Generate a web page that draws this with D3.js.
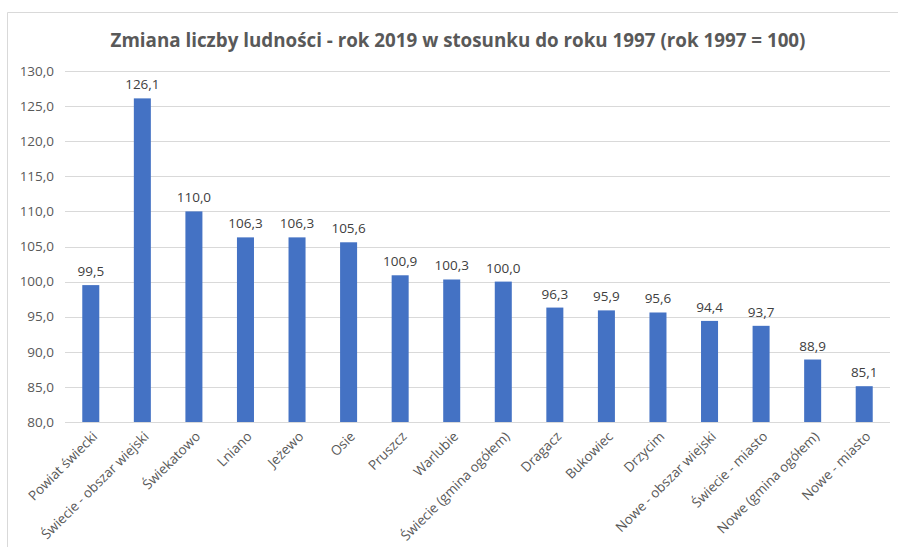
<!DOCTYPE html>
<html>
<head>
<meta charset="utf-8">
<script src="https://cdn.jsdelivr.net/npm/d3@7"></script>
<style>
  body { margin: 0; background: #fff; }
  svg text { font-family: "Open Sans", "Noto Sans", sans-serif; }
</style>
</head>
<body>
<div id="chart"></div>
<script>
const categories = [
    "Powiat świecki", "Świecie - obszar wiejski", "Świekatowo", "Lniano", "Jeżewo",
    "Osie", "Pruszcz", "Warlubie", "Świecie (gmina ogółem)", "Dragacz", "Bukowiec",
    "Drzycim", "Nowe - obszar wiejski", "Świecie - miasto", "Nowe (gmina ogółem)", "Nowe - miasto"
];
const values = [99.5, 126.1, 110.0, 106.3, 106.3, 105.6, 100.9, 100.3, 100.0, 96.3, 95.9, 95.6, 94.4, 93.7, 88.9, 85.1];
const yTicks = [80, 85, 90, 95, 100, 105, 110, 115, 120, 125, 130];

const W = 898, H = 547;
const margin = { top: 71, right: 8, bottom: 125, left: 65 };
const fmt = v => v.toFixed(1).replace(".", ",");

const svg = d3.select("#chart")
    .append("svg")
    .attr("width", W)
    .attr("height", H);

// chart frame (only left and top edges are in view)
svg.append("path")
    .attr("d", `M7.5,${H}V12.5H${W}`)
    .attr("fill", "none")
    .attr("stroke", "#d9d9d9");

const x = d3.scaleBand()
    .domain(categories)
    .range([margin.left, W - margin.right])
    .paddingInner(0.67)
    .paddingOuter(0.335);

const y = d3.scaleLinear()
    .domain([80, 130])
    .range([H - margin.bottom, margin.top]);

// gridlines
svg.append("g")
    .selectAll("line")
    .data(yTicks)
    .join("line")
    .attr("x1", margin.left).attr("x2", W - margin.right)
    .attr("y1", d => Math.round(y(d)) + 0.5).attr("y2", d => Math.round(y(d)) + 0.5)
    .attr("stroke", "#d9d9d9");

// y tick labels
svg.append("g")
    .selectAll("text")
    .data(yTicks)
    .join("text")
    .attr("x", 54)
    .attr("y", d => y(d))
    .attr("dy", "0.35em")
    .attr("text-anchor", "end")
    .attr("font-size", 13.5)
    .attr("fill", "#595959")
    .text(fmt);

// bars
svg.append("g")
    .selectAll("rect")
    .data(values)
    .join("rect")
    .attr("x", (d, i) => x(categories[i]))
    .attr("y", d => y(d))
    .attr("width", x.bandwidth())
    .attr("height", d => y(80) - y(d))
    .attr("fill", "#4472c4");

// data labels
svg.append("g")
    .selectAll("text")
    .data(values)
    .join("text")
    .attr("x", (d, i) => x(categories[i]) + x.bandwidth() / 2)
    .attr("y", d => y(d) - 9)
    .attr("text-anchor", "middle")
    .attr("font-size", 13.5)
    .attr("fill", "#404040")
    .text(fmt);

// x labels
svg.append("g")
    .selectAll("text")
    .data(categories)
    .join("text")
    .attr("transform", d => `translate(${x(d) + x.bandwidth() / 2 + 4},${H - margin.bottom + 12}) rotate(-45)`)
    .attr("text-anchor", "end")
    .attr("dy", "0.35em")
    .attr("font-size", 13.5)
    .attr("fill", "#595959")
    .text(d => d);

// title
svg.append("text")
    .attr("x", 458)
    .attr("y", 47)
    .attr("text-anchor", "middle")
    .attr("font-size", 18.8)
    .attr("font-weight", 700)
    .attr("fill", "#595959")
    .text("Zmiana liczby ludności - rok 2019 w stosunku do roku 1997 (rok 1997 = 100)");
</script>
</body>
</html>
